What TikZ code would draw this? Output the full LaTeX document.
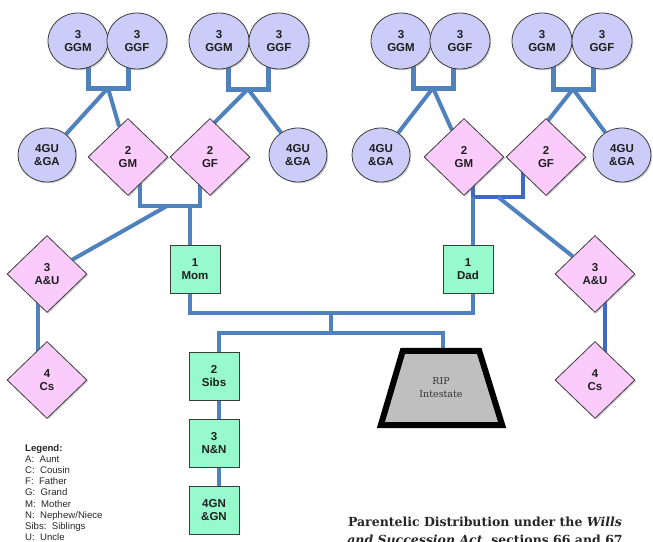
\documentclass[tikz,border=0pt]{standalone}
\usepackage{fontspec}
\setmainfont{Liberation Sans}
\newfontfamily\serifcap{DejaVu Serif}
\usetikzlibrary{shapes.geometric,backgrounds,calc,shadows}
\definecolor{lav}{RGB}{204,204,248}
\definecolor{pinkf}{RGB}{251,204,251}
\definecolor{mint}{RGB}{150,250,204}
\definecolor{connc}{RGB}{79,129,189}
\definecolor{connd}{RGB}{62,105,196}
\definecolor{txt}{RGB}{30,30,30}
\definecolor{edgec}{RGB}{60,60,60}
\begin{document}
\begin{tikzpicture}[x=1pt,y=-1pt,
  every node/.style={font=\fontsize{11.5}{13.5}\selectfont\bfseries, text=txt, align=center, inner sep=0pt},
  shd/.style={drop shadow={shadow xshift=1.3pt,shadow yshift=-1.3pt,opacity=0.35}},
  circ/.style={ellipse, draw=edgec, line width=0.8pt, fill=lav, minimum width=60pt, minimum height=56pt, shd},
  gucirc/.style={ellipse, draw=edgec, line width=0.8pt, fill=lav, minimum width=58pt, minimum height=54pt, shd},
  dia/.style={diamond, draw=edgec, line width=0.8pt, fill=pinkf, minimum width=80pt, minimum height=77pt, shd},
  sq/.style={rectangle, draw=edgec, line width=0.8pt, fill=mint, minimum width=50pt, minimum height=48pt, shd},
  cn/.style={draw=connc, line width=4pt},
  cnt/.style={draw=connc, line width=5pt},
]
\useasboundingbox (0,0) rectangle (653,541);

% great-grandparents
\node[circ] (ggmA) at (78,41) {3\\GGM};
\node[circ] (ggfA) at (137,41) {3\\GGF};
\node[circ] (ggmB) at (219,41) {3\\GGM};
\node[circ] (ggfB) at (279,41) {3\\GGF};
\node[circ] (ggmC) at (401,41) {3\\GGM};
\node[circ] (ggfC) at (460,41) {3\\GGF};
\node[circ] (ggmD) at (542,41) {3\\GGM};
\node[circ] (ggfD) at (602,41) {3\\GGF};

% great uncles/aunts
\node[gucirc] (guA) at (47,155) {4GU\\\&GA};
\node[gucirc] (guB) at (298,155) {4GU\\\&GA};
\node[gucirc] (guC) at (381,155) {4GU\\\&GA};
\node[gucirc] (guD) at (622,155) {4GU\\\&GA};

% grandparents
\node[dia] (gmA) at (128,157) {2\\GM};
\node[dia] (gfA) at (210,157) {2\\GF};
\node[dia] (gmC) at (464,157) {2\\GM};
\node[dia] (gfC) at (546,157) {2\\GF};

% aunts & uncles, cousins
\node[dia] (auL) at (47,274) {3\\A\&U};
\node[dia] (auR) at (595,274) {3\\A\&U};
\node[dia] (csL) at (47,380) {4\\Cs};
\node[dia] (csR) at (595,380) {4\\Cs};

% parents, siblings
\node[sq] (mom) at (195,269) {1\\Mom};
\node[sq] (dad) at (468,269) {1\\Dad};
\node[sq] (sibs) at (214,376) {2\\Sibs};
\node[sq] (nn) at (214,443) {3\\N\&N};
\node[sq] (gn) at (214,510) {4GN\\\&GN};

% intestate (text node; trapezoid drawn behind it)
\node[minimum width=76pt, minimum height=74pt, font=\serifcap\fontsize{9.5}{13}\selectfont, text=black!80] (rip) at (441,388) {RIP\\Intestate};

% legend
\node[anchor=north west, align=left, font=\fontsize{9.6}{11.2}\selectfont, text=black!85] (legend) at (25,444)
  {\textbf{Legend:}\\A:\ \ Aunt\\C:\ \ Cousin\\F:\ \ Father\\G:\ \ Grand\\M:\ \ Mother\\N:\ \ Nephew/Niece\\Sibs:\ \ Siblings\\U:\ \ Uncle};

% caption
\node[anchor=north, font=\serifcap\bfseries\fontsize{12.5}{18}\selectfont, text=black!85] (cap) at (485,517)
  {Parentelic Distribution under the \textit{Wills}\\ \textit{and Succession Act}, sections 66 and 67};

\coordinate (jA) at (108,88);
\coordinate (jB) at (248,89);
\coordinate (jC) at (433,88);
\coordinate (jD) at (573,89);
\coordinate (kA) at (170,206);
\coordinate (kC) at (498,197);
\coordinate (m1) at (331,313);
\coordinate (m2) at (331,333);

\begin{scope}[on background layer]
  % top brackets
  \draw[cnt] ([xshift=10pt]ggmA.center) |- (jA) -| ([xshift=-9pt]ggfA.center);
  \draw[cnt] ([xshift=9pt]ggmB.center) |- (jB) -| ([xshift=-11pt]ggfB.center);
  \draw[cnt] ([xshift=12pt]ggmC.center) |- (jC) -| ([xshift=-7pt]ggfC.center);
  \draw[cnt] ([xshift=11pt]ggmD.center) |- (jD) -| ([xshift=-9pt]ggfD.center);
  \draw[cn] (jA) -- (guA);
  \draw[cn] (jA) -- (gmA);
  \draw[cn] (jB) -- (guB);
  \draw[cn] (jB) -- ($(gfA.north)+(3,6)$);
  \draw[cn] (jC) -- (guC);
  \draw[cn] (jC) -- (gmC);
  \draw[cn] (jD) -- (guD);
  \draw[cn] (jD) -- ($(gfC.north)+(0,5)$);
  % grandparent brackets
  \draw[cn] ([xshift=12pt]gmA.center) |- (kA) -| ([xshift=-10pt]gfA.center);
  \draw[cn] ([xshift=-5pt]mom.center) -- ([xshift=-5pt]mom.center |- kA);
  \draw[cn] ([xshift=-3pt]kA) -- (auL);
  \draw[cn, draw=connd] ([xshift=9pt]gmC.center) |- (kC) -| ([xshift=-23pt]gfC.center);
  \draw[cn] ([xshift=5pt]dad.center) -- ([xshift=5pt]dad.center |- kC);
  \draw[cn] (kC) -- (auR);
  % aunts to cousins
  \draw[cn] ([xshift=-9pt]auL.center) -- ([xshift=-9pt]csL.center);
  \draw[cn, draw=connd] ([xshift=10pt]auR.center) -- ([xshift=10pt]csR.center);
  % parents to intestate & siblings
  \draw[cn] ([xshift=-5pt]mom.center) |- (m1) -| ([xshift=5pt]dad.center);
  \draw[cn] (m1) -- (m2);
  \draw[cn] ([xshift=5pt]sibs.center) |- (m2) -| ([xshift=2pt]rip.north);
  \draw[cn] ([xshift=5pt]sibs.center) -- ([xshift=5pt]nn.center);
  \draw[cn] ([xshift=5pt]nn.center) -- ([xshift=5pt]gn.center);
  % intestate trapezoid with shadow
  \fill[black, opacity=0.3] ([shift={(1.5,1.5)}]rip.north west) -- ([shift={(1.5,1.5)}]rip.north east)
     -- ([shift={(24.5,1.5)}]rip.south east) -- ([shift={(-20.5,1.5)}]rip.south west) -- cycle;
  \draw[line width=6pt, draw=black, fill=black!25, line join=miter]
    (rip.north west) -- (rip.north east) -- ([xshift=23pt]rip.south east) -- ([xshift=-22pt]rip.south west) -- cycle;
\end{scope}
\end{tikzpicture}
\end{document}
